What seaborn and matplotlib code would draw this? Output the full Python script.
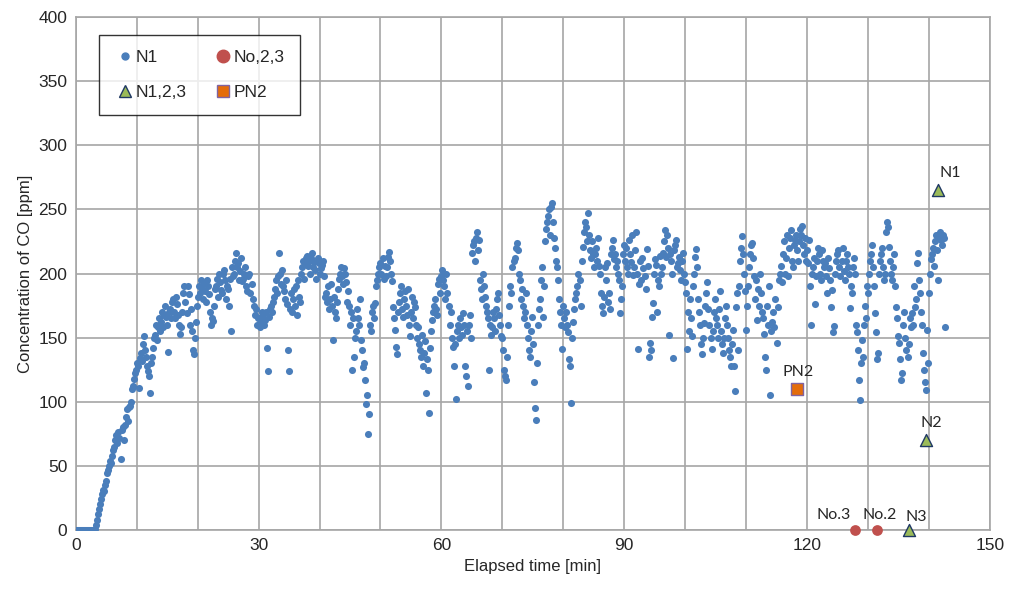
import numpy as np
import pandas as pd
import seaborn as sns
import matplotlib.pyplot as plt
from matplotlib.lines import Line2D

sample_interval_s = 10
co_n1 = [
    0, 0, 0, 0, 0, 0,
    0, 0, 0, 0, 0, 0,
    0, 0, 0, 0, 0, 0,
    0, 1, 4, 8, 12, 16,
    20, 24, 28, 31, 30, 35,
    38, 44, 47, 50, 54, 52,
    58, 62, 65, 70, 74, 68,
    76, 72, 55, 78, 80, 70,
    82, 88, 94, 85, 96, 97,
    100, 110, 112, 118, 122, 125,
    130, 128, 111, 134, 138, 132,
    145, 151, 140, 135, 128, 124,
    120, 107, 130, 135, 142, 150,
    152, 160, 148, 158, 165, 155,
    162, 170, 158, 168, 175, 166,
    160, 139, 170, 172, 165, 178,
    180, 170, 165, 182, 176, 168,
    160, 153, 158, 170, 185, 190,
    178, 169, 190, 184, 160, 172,
    155, 140, 137, 150, 162, 175,
    182, 190, 185, 195, 188, 180,
    192, 186, 178, 195, 190, 184,
    170, 160, 165, 163, 175, 188,
    190, 196, 182, 200, 193, 187,
    185, 200, 203, 195, 180, 190,
    188, 175, 196, 155, 205, 198,
    200, 210, 216, 205, 208, 195,
    202, 212, 194, 196, 200, 205,
    190, 186, 198, 200, 185, 192,
    180, 175, 168, 172, 160, 165,
    165, 158, 162, 170, 168, 160,
    164, 170, 142, 124, 166, 172,
    175, 170, 178, 182, 188, 195,
    185, 198, 216, 200, 192, 203,
    190, 186, 180, 195, 176, 140,
    124, 172, 185, 170, 180, 188,
    175, 190, 168, 195, 182, 178,
    200, 205, 210, 196, 208, 212,
    214, 206, 210, 200, 212, 216,
    205, 209, 203, 196, 212, 208,
    200, 204, 207, 210, 198, 182,
    185, 178, 190, 172, 180, 192,
    175, 148, 182, 170, 165, 178,
    188, 196, 200, 205, 198, 192,
    204, 200, 193, 178, 186, 175,
    160, 170, 125, 165, 135, 150,
    155, 172, 165, 160, 180, 148,
    140, 127, 130, 117, 98, 105,
    75, 90, 160, 155, 170, 175,
    165, 177, 190, 195, 200, 205,
    208, 200, 212, 196, 206, 198,
    205, 213, 217, 210, 200, 194,
    174, 165, 156, 143, 137, 170,
    178, 185, 190, 172, 166, 180,
    186, 175, 168, 188, 160, 151,
    170, 182, 165, 178, 174, 160,
    150, 158, 145, 140, 135, 152,
    128, 138, 147, 107, 133, 125,
    91, 142, 155, 164, 170, 175,
    180, 172, 168, 192, 196, 185,
    198, 203, 195, 190, 180, 200,
    185, 175, 160, 170, 150, 143,
    128, 145, 102, 155, 160, 150,
    165, 158, 152, 169, 160, 128,
    120, 155, 112, 160, 168, 150,
    216, 222, 225, 210, 228, 232,
    218, 226, 195, 188, 180, 200,
    190, 182, 175, 170, 165, 125,
    160, 152, 158, 170, 165, 155,
    172, 180, 185, 168, 160, 151,
    150, 140, 125, 120, 117, 135,
    160, 175, 190, 185, 205, 210,
    212, 220, 224, 218, 200, 195,
    180, 188, 175, 165, 170, 185,
    160, 150, 140, 135, 155, 166,
    145, 115, 95, 86, 130, 160,
    172, 180, 195, 205, 166, 190,
    225, 235, 240, 245, 250, 230,
    252, 255, 240, 228, 220, 210,
    205, 195, 180, 170, 160, 141,
    175, 165, 158, 170, 160, 154,
    133, 128, 99, 150, 162, 172,
    180, 185, 190, 200, 195, 175,
    210, 221, 232, 240, 236, 225,
    247, 230, 218, 212, 225, 215,
    205, 215, 220, 210, 228, 206,
    200, 185, 175, 169, 182, 205,
    195, 208, 178, 185, 172, 215,
    220, 226, 211, 215, 205, 210,
    200, 195, 169, 180, 190, 215,
    222, 210, 220, 205, 200, 226,
    215, 209, 230, 199, 205, 218,
    232, 200, 141, 192, 210, 195,
    212, 204, 198, 188, 219, 206,
    135, 146, 140, 166, 177, 200,
    211, 207, 170, 195, 190, 214,
    200, 205, 216, 225, 234, 213,
    230, 220, 152, 215, 210, 200,
    134, 218, 222, 226, 205, 208,
    213, 203, 195, 210, 216, 200,
    193, 185, 141, 170, 155, 180,
    165, 151, 190, 200, 213, 219,
    205, 180, 170, 160, 145, 137,
    150, 161, 175, 185, 193, 172,
    160, 150, 141, 155, 170, 180,
    165, 160, 150, 172, 186, 155,
    145, 138, 150, 165, 175, 160,
    150, 140, 135, 128, 145, 156,
    128, 108, 174, 185, 140, 190,
    210, 220, 229, 215, 200, 186,
    156, 175, 190, 205, 215, 222,
    224, 212, 198, 180, 195, 164,
    188, 175, 200, 185, 170, 165,
    153, 135, 125, 175, 160, 190,
    105, 155, 162, 170, 158, 180,
    146, 174, 195, 200, 206, 193,
    215, 225, 200, 212, 230, 198,
    220, 228, 234, 210, 205, 222,
    226, 230, 218, 210, 225, 235,
    230, 237, 222, 215, 228, 210,
    218, 208, 226, 190, 160, 200,
    205, 212, 176, 198, 210, 220,
    215, 200, 195, 218, 210, 205,
    208, 198, 185, 212, 204, 195,
    174, 187, 154, 159, 200, 210,
    215, 218, 205, 198, 210, 220,
    202, 195, 210, 215, 205, 200,
    173, 190, 185, 205, 212, 200,
    160, 154, 140, 117, 101, 130,
    148, 135, 160, 175, 165, 190,
    185, 200, 210, 215, 222, 205,
    190, 169, 154, 133, 138, 200,
    210, 215, 220, 205, 195, 200,
    232, 240, 236, 221, 210, 200,
    195, 205, 215, 190, 174, 165,
    151, 146, 133, 117, 122, 160,
    170, 150, 140, 135, 145, 165,
    158, 169, 160, 190, 174, 180,
    208, 216, 195, 185, 170, 160,
    138, 125, 115, 109, 156, 130,
    185, 200, 211, 215, 220, 206,
    225, 230, 218, 195, 228, 232,
    226, 222, 230, 228, 158,
]

# single spot measurements
no_labels = ["No.3", "No.2"]
no_time = [127.8, 131.5]
no_co = [0, 0]

n_labels = ["N1", "N2", "N3"]
n_time = [141.5, 139.5, 136.8]
n_co = [265, 70, 0]

pn_labels = ["PN2"]
pn_time = [118.3]
pn_co = [110]

df = pd.DataFrame({"time": np.arange(len(co_n1)) * sample_interval_s / 60, "co": co_n1})

sns.set_style("white")
plt.rcParams["font.family"] = ["Liberation Sans", "DejaVu Sans"]

fig = plt.figure(figsize=(10.11, 5.92), dpi=100)
ax = fig.add_axes([0.075, 0.105, 0.904, 0.866])

blue = "#4A7EBB"
red = "#C0504D"
green = "#9BBB59"
orange = "#E46C0A"

sns.scatterplot(data=df, x="time", y="co", ax=ax, color=blue, s=26, linewidth=0, zorder=3)
sns.scatterplot(x=no_time, y=no_co, ax=ax, color=red, s=60, linewidth=0, zorder=4, clip_on=False)
sns.scatterplot(x=n_time, y=n_co, ax=ax, color=green, marker="^", s=75, edgecolor="#1F3864",
                linewidth=1, zorder=4, clip_on=False)
sns.scatterplot(x=pn_time, y=pn_co, ax=ax, color=orange, marker="s", s=75, edgecolor="#8064A2",
                linewidth=1, zorder=4, clip_on=False)

# labels next to the spot measurements
label_font = dict(fontsize=11.5, family=["Lato", "DejaVu Sans"], ha="center", va="bottom")
offsets = {"No.3": (-15, 6), "No.2": (2, 6), "N1": (9, 7), "N2": (4, 7), "N3": (5, 4), "PN2": (1, 7)}
for lab, t, v in zip(no_labels + n_labels + pn_labels, no_time + n_time + pn_time, no_co + n_co + pn_co):
    ax.annotate(lab, (t, v), xytext=offsets[lab], textcoords="offset points", **label_font)

ax.set_xlim(0, 150)
ax.set_ylim(0, 400)
ax.set_xticks(np.arange(0, 151, 30))
ax.set_xticks(np.arange(0, 151, 10), minor=True)
ax.set_yticks(np.arange(0, 401, 50))
ax.grid(True, which="both", color="#A6A6A6", linewidth=1.2)
ax.set_axisbelow(True)
for sp in ax.spines.values():
    sp.set_color("#A6A6A6")
    sp.set_linewidth(1.2)
ax.tick_params(axis="both", which="both", length=0, labelsize=12.5, pad=6)
ax.set_xlabel("Elapsed time [min]", fontsize=12)
ax.set_ylabel("Concentration of CO [ppm]", fontsize=12)

# column-first order so rows read N1 / No,2,3 then N1,2,3 / PN2
handles = [
    Line2D([], [], marker="o", color=blue, linestyle="none", markersize=5),
    Line2D([], [], marker="^", color=green, markeredgecolor="#1F3864", linestyle="none", markersize=8),
    Line2D([], [], marker="o", color=red, linestyle="none", markersize=9),
    Line2D([], [], marker="s", color=orange, markeredgecolor="#8064A2", linestyle="none", markersize=8),
]
leg = ax.legend(handles, ["N1", "N1,2,3", "No,2,3", "PN2"], ncol=2, loc="upper left",
                bbox_to_anchor=(0.025, 0.965), borderaxespad=0, fontsize=12.5, frameon=True,
                fancybox=False, handletextpad=0.0, handlelength=1.3, columnspacing=1.4,
                labelspacing=1.15, borderpad=0.85)
leg.get_frame().set_edgecolor("black")
leg.get_frame().set_linewidth(1.0)

fig.savefig("out.png", dpi=100)
